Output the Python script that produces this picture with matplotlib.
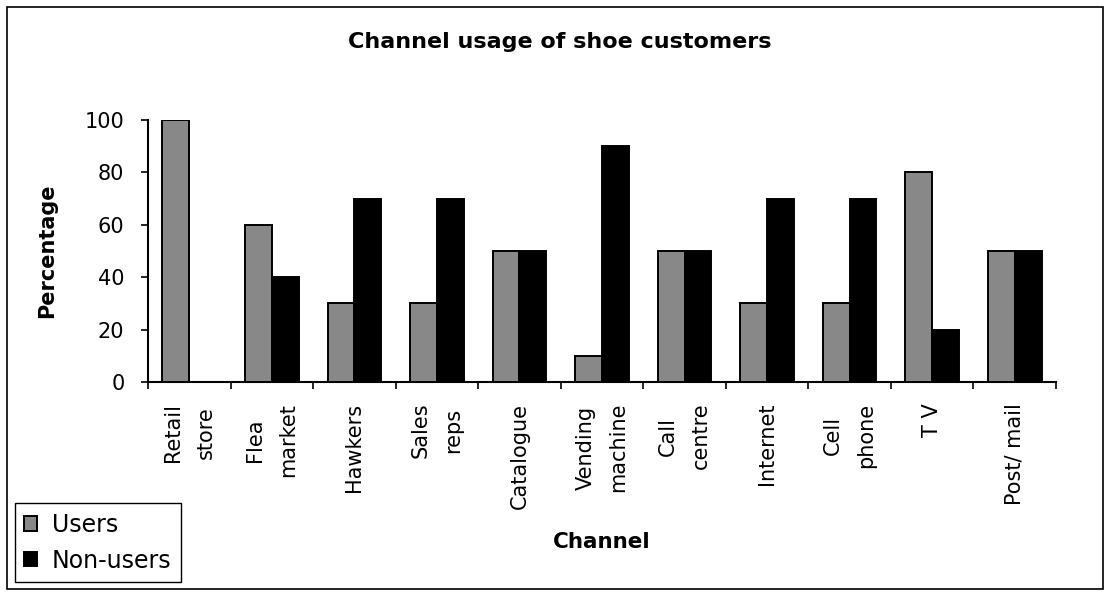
import matplotlib
matplotlib.use("Agg")
import matplotlib.pyplot as plt
import matplotlib.patches as mpatches
import numpy as np

# ---- data ----
categories = ["Retail\nstore", "Flea\nmarket", "Hawkers", "Sales\nreps", "Catalogue",
              "Vending\nmachine", "Call\ncentre", "Internet", "Cell\nphone", "T V", "Post/ mail"]
users = [100, 60, 30, 30, 50, 10, 50, 30, 30, 80, 50]
non_users = [0, 40, 70, 70, 50, 90, 50, 70, 70, 20, 50]
yticks = [0, 20, 40, 60, 80, 100]
title = "Channel usage of shoe customers"
xlabel = "Channel"
ylabel = "Percentage"
series_names = ["Users", "Non-users"]

plt.rcParams['font.family'] = ['DejaVu Sans']

W, H = 1108, 592
fig = plt.figure(figsize=(W / 100, H / 100), dpi=100)
fig.patch.set_facecolor("white")

ax = fig.add_axes([148 / W, 1 - 382 / H, 908 / W, 262 / H])

x = np.arange(len(categories))
bw = 0.325
ax.bar(x - bw / 2, users, width=bw, color="#888888", edgecolor="black",
       linewidth=1.4, label=series_names[0], zorder=3)
ax.bar(x + bw / 2, non_users, width=bw, color="black", edgecolor="black",
       linewidth=1.4, label=series_names[1], zorder=3)

ax.set_xlim(-0.5, len(categories) - 0.5)
ax.set_ylim(0, 100)
ax.set_yticks(yticks)
ax.set_yticklabels([str(v) for v in yticks])

ax.set_xticks(x)
ax.set_xticklabels(categories, rotation=90, ha="center", va="top",
                   multialignment="center", linespacing=1.8)
ax.set_xticks(np.arange(-0.5, len(categories), 1.0), minor=True)
ax.tick_params(axis="x", which="major", length=0, pad=15, labelsize=15)
ax.tick_params(axis="x", which="minor", length=5, width=1.2, direction="out")
ax.tick_params(axis="y", which="major", length=5, width=1.2, direction="out",
               pad=12, labelsize=15)

for s in ["top", "right"]:
    ax.spines[s].set_visible(False)
for s in ["left", "bottom"]:
    ax.spines[s].set_linewidth(1.5)
    ax.spines[s].set_color("black")

ax.set_ylabel(ylabel, fontsize=15, fontweight="bold")
ax.yaxis.set_label_coords(-0.100, 0.5)
ax.set_xlabel(xlabel, fontsize=15.5, fontweight="bold", va="baseline")
ax.xaxis.set_label_coords(0.5, (382 - 548) / 262)

fig.text(560 / W, 1 - 48 / H, title, ha="center", va="baseline",
         fontsize=16, fontweight="bold")

leg = ax.legend(loc="lower left", bbox_to_anchor=(15 / W, 1 - 582 / H),
                bbox_transform=fig.transFigure, borderaxespad=0,
                fontsize=17, frameon=True, fancybox=False, shadow=False,
                handlelength=0.55, handleheight=0.55, handletextpad=0.6,
                labelspacing=0.5, borderpad=0.4)
leg.get_frame().set_edgecolor("black")
leg.get_frame().set_linewidth(1.0)
leg.get_frame().set_alpha(1)

fig.patches.append(mpatches.Rectangle((7 / W, 1 - 589 / H), (1103 - 7) / W,
                                      (589 - 7) / H, transform=fig.transFigure,
                                      fill=False, edgecolor="black", linewidth=1.2))

fig.savefig("out.png", dpi=100, facecolor="white")
